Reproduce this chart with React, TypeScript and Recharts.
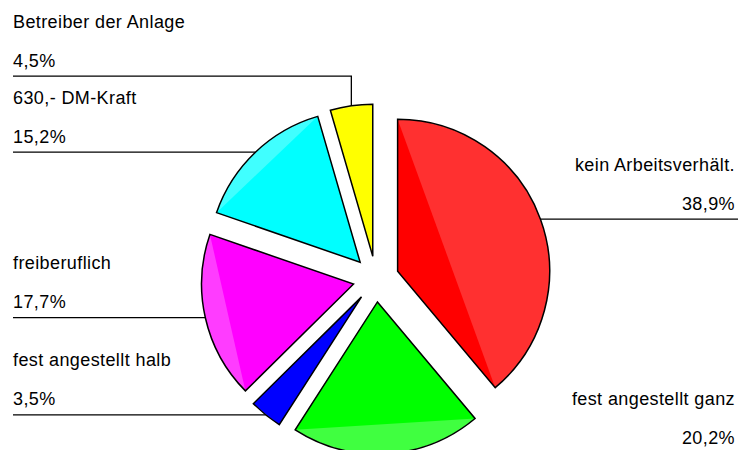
import React from 'react';
import { PieChart, Pie, Cell } from 'recharts';

const categories = [
  'kein Arbeitsverhält.',
  'fest angestellt ganz',
  'fest angestellt halb',
  'freiberuflich',
  '630,- DM-Kraft',
  'Betreiber der Anlage',
];
const shares = [38.9, 20.2, 3.5, 17.7, 15.2, 4.5];
const colors = ['#FF0000', '#00FF00', '#0000FF', '#FF00FF', '#00FFFF', '#FFFF00'];
const segmentColors = ['#FF3030', '#40FF40', '#3C3CFF', '#FF3CFF', '#40FFFF', '#FFFF40'];

const data = categories.map((name, i) => ({ name, value: shares[i] }));

const W = 739;
const H = 450;
const CX = 376;
const CY = 279;
const R = 152;
const EXPLODE = 23;
const LEFT_X = 13;
const RIGHT_X = 738;
const TEXT_RIGHT = 735;
const LINE_GAP = 76;
const RAD = Math.PI / 180;
const FONT = '"Liberation Sans", Arial, sans-serif';

const polar = (cx: number, cy: number, r: number, angle: number): [number, number] => [
  cx + r * Math.cos(-angle * RAD),
  cy + r * Math.sin(-angle * RAD),
];

function labelAnchors(cx: number, cy: number, r: number) {
  const total = shares.reduce((a, b) => a + b, 0);
  let cum = 0;
  const anchors = shares.map((v) => {
    const start = 90 - (360 * cum) / total;
    cum += v;
    const end = 90 - (360 * cum) / total;
    const mid = (start + end) / 2;
    const [x, y] = polar(cx, cy, r + EXPLODE, mid);
    return { x, y, lineY: y, left: x < cx };
  });
  [true, false].forEach((side) => {
    const idx = anchors
      .map((_, i) => i)
      .filter((i) => anchors[i].left === side)
      .sort((a, b) => anchors[b].y - anchors[a].y);
    let prev = Infinity;
    idx.forEach((i) => {
      const a = anchors[i];
      a.lineY = Math.min(a.y, prev - LINE_GAP);
      prev = a.lineY;
    });
  });
  return anchors;
}

const fmt = (v: number) => v.toFixed(1).replace('.', ',') + '%';

const renderSlice = (props: any) => {
  const { cx, cy, outerRadius, startAngle, endAngle, midAngle, index } = props;
  const ox = cx + EXPLODE * Math.cos(-midAngle * RAD);
  const oy = cy + EXPLODE * Math.sin(-midAngle * RAD);
  const [sx, sy] = polar(ox, oy, outerRadius, startAngle);
  const [ex, ey] = polar(ox, oy, outerRadius, endAngle);
  const large = Math.abs(startAngle - endAngle) > 180 ? 1 : 0;
  const r = outerRadius;
  const sectorPath = `M ${ox} ${oy} L ${sx} ${sy} A ${r} ${r} 0 ${large} 1 ${ex} ${ey} Z`;
  const triPath = `M ${ox} ${oy} L ${sx} ${sy} L ${ex} ${ey} Z`;

  const anchors = labelAnchors(cx, cy, outerRadius);
  const a = anchors[index];
  const name = categories[index];
  const pct = fmt(shares[index]);

  const linePts = a.left
    ? `${LEFT_X},${a.lineY} ${a.x},${a.lineY} ${a.x},${a.y}`
    : `${a.x},${a.y} ${RIGHT_X},${a.y}`;
  const tx = a.left ? LEFT_X : TEXT_RIGHT;
  const anchor = a.left ? 'start' : 'end';

  return (
    <g key={`slice-${index}`}>
      <path d={sectorPath} fill={segmentColors[index]} stroke="none" />
      <path d={triPath} fill={colors[index]} stroke="none" />
      <path d={sectorPath} fill="none" stroke="#000" strokeWidth={1.5} strokeLinejoin="miter" />
      <polyline points={linePts} fill="none" stroke="#000" strokeWidth={1.3} />
      <text
        x={tx}
        y={a.lineY - 48.5}
        textAnchor={anchor}
        fontFamily={FONT}
        fontSize={18}
        letterSpacing={0.4}
        fill="#000"
      >
        {name}
      </text>
      <text
        x={tx}
        y={a.lineY - 9.5}
        textAnchor={anchor}
        fontFamily={FONT}
        fontSize={18}
        letterSpacing={0.4}
        fill="#000"
      >
        {pct}
      </text>
    </g>
  );
};

export default function App() {
  return (
    <div style={{ position: 'absolute', left: 0, top: 0, width: W, height: H, background: '#fff' }}>
      <PieChart width={W} height={H} margin={{ top: 0, right: 0, bottom: 0, left: 0 }}>
        <Pie
          data={data}
          dataKey="value"
          nameKey="name"
          cx={CX}
          cy={CY}
          outerRadius={R}
          startAngle={90}
          endAngle={-270}
          isAnimationActive={false}
          stroke="none"
          label={renderSlice}
          labelLine={false}
        >
          {data.map((d) => (
            <Cell key={d.name} fill="none" stroke="none" />
          ))}
        </Pie>
      </PieChart>
    </div>
  );
}
